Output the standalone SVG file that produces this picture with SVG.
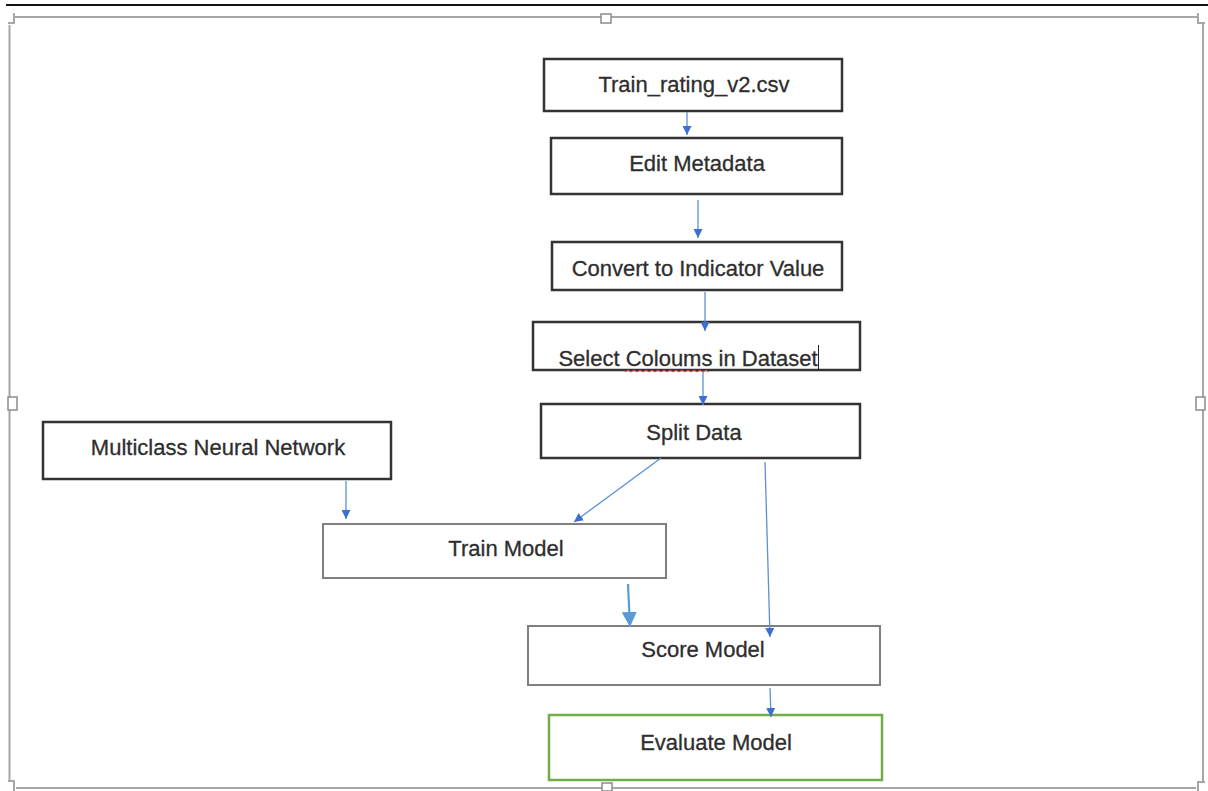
<svg xmlns="http://www.w3.org/2000/svg" width="1208" height="791" viewBox="0 0 1208 791">
<style>
.frame{fill:none;stroke:#a6a6a6;stroke-width:2}
.handle{fill:#fff;stroke:#8c8c8c;stroke-width:1.5}
.box{fill:#fff;stroke:#333;stroke-width:2.5}
.gbox{fill:#fff;stroke:#7f7f7f;stroke-width:2}
.ebox{fill:#fff;stroke:#70ad47;stroke-width:2.5}
.lbl{font-family:"Liberation Sans",Arial,sans-serif;font-size:22px;fill:#2e2e2e;stroke:#2e2e2e;stroke-width:0.3;text-anchor:middle}
.edge{fill:none;stroke:#5b8fd9;stroke-width:1.3}
.edge2{fill:none;stroke:#5b9bd5;stroke-width:2.2}
</style>
<defs>
<marker id="ah" viewBox="0 0 10 10" refX="10" refY="5" markerWidth="9" markerHeight="9" markerUnits="userSpaceOnUse" orient="auto">
<path d="M0,0 L10,5 L0,10 z" fill="#3c6fcf"/>
</marker>
<marker id="ah2" viewBox="0 0 10 10" refX="10" refY="5" markerWidth="15" markerHeight="15" markerUnits="userSpaceOnUse" orient="auto">
<path d="M0,0 L10,5 L0,10 z" fill="#5b9bd5"/>
</marker>
</defs>
<rect width="1208" height="791" fill="#fff"/>
<line x1="6" y1="5" x2="1208" y2="5" stroke="#111" stroke-width="2"/>
<g id="frame">
<line class="frame" x1="15" y1="17" x2="1198" y2="17"/>
<line class="frame" x1="9.5" y1="25" x2="9.5" y2="782"/>
<line class="frame" x1="1203" y1="23" x2="1203" y2="782"/>
<line class="frame" x1="16" y1="788" x2="1196" y2="788"/>
<path class="frame" d="M14,13 V23 H8"/>
<path class="frame" d="M1198,13 V23 H1205"/>
<path class="frame" d="M8,781 H14 V791"/>
<path class="frame" d="M1205,782 H1198 V791"/>
<rect class="handle" x="601" y="14" width="10" height="9"/>
<rect class="handle" x="8" y="397" width="9" height="13"/>
<rect class="handle" x="1196" y="397" width="9" height="13"/>
<rect class="handle" x="602" y="783" width="10" height="8"/>
</g>
<g id="n1"><rect class="box" x="544" y="59" width="298" height="52"/><text class="lbl" x="694" y="92">Train_rating_v2.csv</text></g>
<g id="n2"><rect class="box" x="551" y="138" width="291" height="56"/><text class="lbl" x="697" y="171">Edit Metadata</text></g>
<g id="n3"><rect class="box" x="552" y="242" width="290" height="48"/><text class="lbl" x="698" y="276">Convert to Indicator Value</text></g>
<g id="n4"><rect class="box" x="533" y="322" width="327" height="48"/><text class="lbl" x="688" y="366">Select Coloums in Dataset</text>
<line x1="818.5" y1="345" x2="818.5" y2="371" stroke="#222" stroke-width="1"/>
<path d="M625,372 l3,-2 l3,2 l3,-2 l3,2 l3,-2 l3,2 l3,-2 l3,2 l3,-2 l3,2 l3,-2 l3,2 l3,-2 l3,2 l3,-2 l3,2 l3,-2 l3,2 l3,-2 l3,2 l3,-2 l3,2 l3,-2 l3,2 l3,-2 l3,2 l3,-2 l3,2" fill="none" stroke="#d94040" stroke-width="1"/></g>
<g id="n5"><rect class="box" x="541" y="404" width="319" height="54"/><text class="lbl" x="694" y="440">Split Data</text></g>
<g id="n6"><rect class="box" x="43" y="422" width="348" height="57"/><text class="lbl" x="218" y="455">Multiclass Neural Network</text></g>
<g id="n7"><rect class="gbox" x="323" y="524" width="343" height="54"/><text class="lbl" x="506" y="556">Train Model</text></g>
<g id="n8"><rect class="gbox" x="528" y="626" width="352" height="59"/><text class="lbl" x="703" y="657">Score Model</text></g>
<g id="n9"><rect class="ebox" x="549" y="715" width="333" height="65"/><text class="lbl" x="716" y="750">Evaluate Model</text></g>
<g id="connectors">
<line class="edge" x1="687" y1="112" x2="687" y2="135" marker-end="url(#ah)"/>
<line class="edge" x1="698" y1="200" x2="698" y2="238" marker-end="url(#ah)"/>
<line class="edge" x1="705" y1="292" x2="705" y2="331" marker-end="url(#ah)"/>
<line class="edge" x1="703" y1="372" x2="703" y2="405" marker-end="url(#ah)"/>
<line class="edge" x1="661" y1="458" x2="574" y2="522" marker-end="url(#ah)"/>
<line class="edge" x1="765" y1="462" x2="770" y2="637" marker-end="url(#ah)"/>
<line class="edge" x1="346" y1="481" x2="346" y2="519" marker-end="url(#ah)"/>
<line class="edge2" x1="628" y1="584" x2="630" y2="627" marker-end="url(#ah2)"/>
<line class="edge" x1="770" y1="688" x2="771" y2="717" marker-end="url(#ah)"/>
</g>
</svg>
